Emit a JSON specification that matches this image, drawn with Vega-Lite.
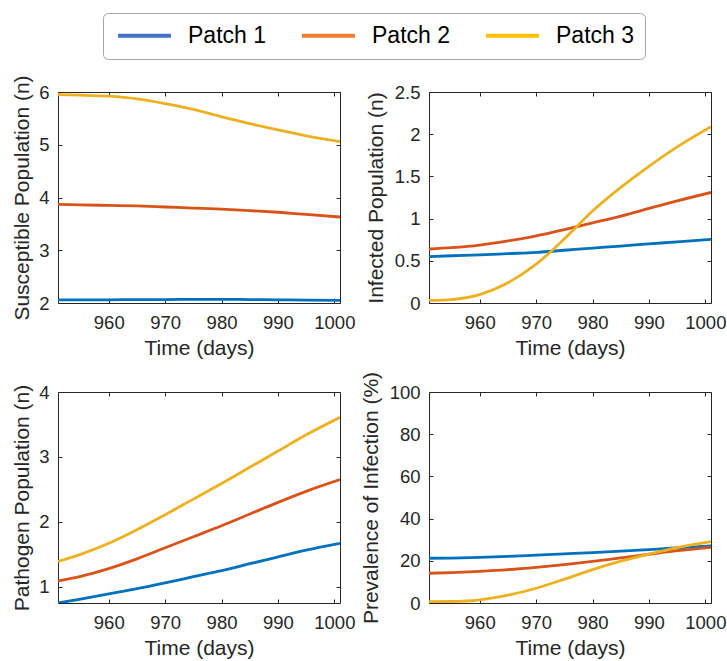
{
  "$schema": "https://vega.github.io/schema/vega-lite/v6.json",
  "background": "white",
  "padding": {"top": 12, "left": 11, "right": 3, "bottom": 5},
  "bounds": "flush",
  "spacing": 89,
  "columns": 2,
  "config": {
    "font": "Liberation Sans",
    "view": {"stroke": "#262626", "strokeWidth": 1},
    "axis": {
      "domain": false, "grid": false,
      "tickColor": "#262626", "tickSize": -4, "tickWidth": 1,
      "labelColor": "#262626", "labelFontSize": 18.5, "labelFont": "Liberation Sans",
      "titleColor": "#262626", "titleFontSize": 21, "titleFontWeight": "normal", "titleFont": "Liberation Sans"
    },
    "axisBottom": {"labelPadding": 14, "titlePadding": 6},
    "axisLeft": {"labelPadding": 13},
    "legend": {
      "orient": "none", "legendX": 45, "legendY": -79, "direction": "horizontal",
      "labelFont": "Liberation Sans", "labelFontSize": 23, "labelColor": "#000000",
      "symbolType": "M-5,0H5", "symbolSize": 112, "symbolStrokeWidth": 4, "symbolOffset": 19, "symbolOpacity": 1,
      "labelOffset": 32, "columnPadding": 28, "padding": 11,
      "strokeColor": "#A6A6A6", "cornerRadius": 5
    }
  },
  "data": {"values": [
    {"t": 951, "patch": "Patch 1", "S": 2.06, "I": 0.55, "P": 0.75, "prev": 21.2},
    {"t": 955, "patch": "Patch 1", "S": 2.06, "I": 0.56, "P": 0.81, "prev": 21.3},
    {"t": 960, "patch": "Patch 1", "S": 2.06, "I": 0.57, "P": 0.89, "prev": 21.6},
    {"t": 965, "patch": "Patch 1", "S": 2.065, "I": 0.585, "P": 0.97, "prev": 22.1},
    {"t": 970, "patch": "Patch 1", "S": 2.065, "I": 0.6, "P": 1.06, "prev": 22.7},
    {"t": 975, "patch": "Patch 1", "S": 2.07, "I": 0.625, "P": 1.155, "prev": 23.3},
    {"t": 980, "patch": "Patch 1", "S": 2.07, "I": 0.65, "P": 1.25, "prev": 23.9},
    {"t": 985, "patch": "Patch 1", "S": 2.065, "I": 0.675, "P": 1.355, "prev": 24.6},
    {"t": 990, "patch": "Patch 1", "S": 2.06, "I": 0.7, "P": 1.46, "prev": 25.3},
    {"t": 995, "patch": "Patch 1", "S": 2.055, "I": 0.725, "P": 1.565, "prev": 26.1},
    {"t": 1001, "patch": "Patch 1", "S": 2.05, "I": 0.755, "P": 1.67, "prev": 27.1},
    {"t": 951, "patch": "Patch 2", "S": 3.87, "I": 0.64, "P": 1.09, "prev": 14.1},
    {"t": 955, "patch": "Patch 2", "S": 3.86, "I": 0.655, "P": 1.16, "prev": 14.4},
    {"t": 960, "patch": "Patch 2", "S": 3.85, "I": 0.685, "P": 1.28, "prev": 15.0},
    {"t": 965, "patch": "Patch 2", "S": 3.84, "I": 0.735, "P": 1.43, "prev": 15.8},
    {"t": 970, "patch": "Patch 2", "S": 3.82, "I": 0.795, "P": 1.6, "prev": 16.9},
    {"t": 975, "patch": "Patch 2", "S": 3.8, "I": 0.87, "P": 1.77, "prev": 18.2},
    {"t": 980, "patch": "Patch 2", "S": 3.78, "I": 0.95, "P": 1.94, "prev": 19.7},
    {"t": 985, "patch": "Patch 2", "S": 3.75, "I": 1.03, "P": 2.12, "prev": 21.4},
    {"t": 990, "patch": "Patch 2", "S": 3.72, "I": 1.12, "P": 2.3, "prev": 23.1},
    {"t": 995, "patch": "Patch 2", "S": 3.68, "I": 1.21, "P": 2.47, "prev": 24.8},
    {"t": 1001, "patch": "Patch 2", "S": 3.63, "I": 1.31, "P": 2.65, "prev": 26.4},
    {"t": 951, "patch": "Patch 3", "S": 5.95, "I": 0.03, "P": 1.39, "prev": 0.6},
    {"t": 955, "patch": "Patch 3", "S": 5.94, "I": 0.04, "P": 1.5, "prev": 0.7},
    {"t": 960, "patch": "Patch 3", "S": 5.92, "I": 0.1, "P": 1.67, "prev": 1.5},
    {"t": 965, "patch": "Patch 3", "S": 5.87, "I": 0.24, "P": 1.88, "prev": 3.7},
    {"t": 970, "patch": "Patch 3", "S": 5.78, "I": 0.46, "P": 2.11, "prev": 7.0},
    {"t": 975, "patch": "Patch 3", "S": 5.67, "I": 0.76, "P": 2.35, "prev": 11.3},
    {"t": 980, "patch": "Patch 3", "S": 5.53, "I": 1.09, "P": 2.59, "prev": 15.8},
    {"t": 985, "patch": "Patch 3", "S": 5.4, "I": 1.37, "P": 2.84, "prev": 19.8},
    {"t": 990, "patch": "Patch 3", "S": 5.28, "I": 1.62, "P": 3.09, "prev": 23.2},
    {"t": 995, "patch": "Patch 3", "S": 5.17, "I": 1.85, "P": 3.34, "prev": 26.3},
    {"t": 1001, "patch": "Patch 3", "S": 5.06, "I": 2.09, "P": 3.61, "prev": 29.1}
  ]},
  "concat": [
    {
      "width": 282, "height": 211,
      "layer": [
        {"mark": {"type": "line", "strokeWidth": 2.8, "interpolate": "monotone", "clip": true},
         "encoding": {
           "x": {"field": "t", "type": "quantitative", "scale": {"domain": [951, 1001], "nice": false, "zero": false}, "axis": {"values": [960, 970, 980, 990, 1000], "format": "d", "title": "Time (days)"}},
           "y": {"field": "S", "type": "quantitative", "scale": {"domain": [2, 6], "nice": false, "zero": false}, "axis": {"values": [2, 3, 4, 5, 6], "format": ".6~g", "title": "Susceptible Population (n)", "titlePadding": 6}},
           "stroke": {"field": "patch", "type": "nominal", "scale": {"range": ["#0072BD", "#D95319", "#EDB120"]}, "legend": null}
         }},
        {"mark": {"type": "line", "strokeOpacity": 0},
         "encoding": {
           "x": {"field": "t", "type": "quantitative", "axis": {"orient": "top", "values": [960, 970, 980, 990, 1000], "labels": false, "title": null}},
           "y": {"field": "S", "type": "quantitative", "axis": {"orient": "right", "values": [2, 3, 4, 5, 6], "labels": false, "title": null}},
           "color": {"field": "patch", "type": "nominal", "scale": {"domain": ["Patch 1", "Patch 2", "Patch 3"], "range": ["#4472C4", "#ED7D31", "#FFC000"]}, "legend": {"title": null}}
         }}
      ],
      "resolve": {"axis": {"x": "independent", "y": "independent"}}
    },
    {
      "width": 282, "height": 211,
      "layer": [
        {"mark": {"type": "line", "strokeWidth": 2.8, "interpolate": "monotone", "clip": true},
         "encoding": {
           "x": {"field": "t", "type": "quantitative", "scale": {"domain": [951, 1001], "nice": false, "zero": false}, "axis": {"values": [960, 970, 980, 990, 1000], "format": "d", "title": "Time (days)"}},
           "y": {"field": "I", "type": "quantitative", "scale": {"domain": [0, 2.5], "nice": false}, "axis": {"values": [0, 0.5, 1, 1.5, 2, 2.5], "format": ".6~g", "title": "Infected Population (n)", "titlePadding": 8}},
           "stroke": {"field": "patch", "type": "nominal", "scale": {"range": ["#0072BD", "#D95319", "#EDB120"]}, "legend": null}
         }},
        {"mark": {"type": "line", "strokeOpacity": 0},
         "encoding": {
           "x": {"field": "t", "type": "quantitative", "axis": {"orient": "top", "values": [960, 970, 980, 990, 1000], "labels": false, "title": null}},
           "y": {"field": "I", "type": "quantitative", "axis": {"orient": "right", "values": [0, 0.5, 1, 1.5, 2, 2.5], "labels": false, "title": null}},
           "color": {"field": "patch", "type": "nominal", "scale": {"domain": ["Patch 1", "Patch 2", "Patch 3"], "range": ["#4472C4", "#ED7D31", "#FFC000"]}, "legend": {"title": null}}
         }}
      ],
      "resolve": {"axis": {"x": "independent", "y": "independent"}}
    },
    {
      "width": 282, "height": 211,
      "layer": [
        {"mark": {"type": "line", "strokeWidth": 2.8, "interpolate": "monotone", "clip": true},
         "encoding": {
           "x": {"field": "t", "type": "quantitative", "scale": {"domain": [951, 1001], "nice": false, "zero": false}, "axis": {"values": [960, 970, 980, 990, 1000], "format": "d", "title": "Time (days)"}},
           "y": {"field": "P", "type": "quantitative", "scale": {"domain": [0.75, 4], "nice": false, "zero": false}, "axis": {"values": [1, 2, 3, 4], "format": ".6~g", "title": "Pathogen Population (n)", "titlePadding": 6}},
           "stroke": {"field": "patch", "type": "nominal", "scale": {"range": ["#0072BD", "#D95319", "#EDB120"]}, "legend": null}
         }},
        {"mark": {"type": "line", "strokeOpacity": 0},
         "encoding": {
           "x": {"field": "t", "type": "quantitative", "axis": {"orient": "top", "values": [960, 970, 980, 990, 1000], "labels": false, "title": null}},
           "y": {"field": "P", "type": "quantitative", "axis": {"orient": "right", "values": [1, 2, 3, 4], "labels": false, "title": null}},
           "color": {"field": "patch", "type": "nominal", "scale": {"domain": ["Patch 1", "Patch 2", "Patch 3"], "range": ["#4472C4", "#ED7D31", "#FFC000"]}, "legend": {"title": null}}
         }}
      ],
      "resolve": {"axis": {"x": "independent", "y": "independent"}}
    },
    {
      "width": 282, "height": 211,
      "layer": [
        {"mark": {"type": "line", "strokeWidth": 2.8, "interpolate": "monotone", "clip": true},
         "encoding": {
           "x": {"field": "t", "type": "quantitative", "scale": {"domain": [951, 1001], "nice": false, "zero": false}, "axis": {"values": [960, 970, 980, 990, 1000], "format": "d", "title": "Time (days)"}},
           "y": {"field": "prev", "type": "quantitative", "scale": {"domain": [0, 100], "nice": false}, "axis": {"values": [0, 20, 40, 60, 80, 100], "format": ".6~g", "title": "Prevalence of Infection (%)", "titlePadding": 8}},
           "stroke": {"field": "patch", "type": "nominal", "scale": {"range": ["#0072BD", "#D95319", "#EDB120"]}, "legend": null}
         }},
        {"mark": {"type": "line", "strokeOpacity": 0},
         "encoding": {
           "x": {"field": "t", "type": "quantitative", "axis": {"orient": "top", "values": [960, 970, 980, 990, 1000], "labels": false, "title": null}},
           "y": {"field": "prev", "type": "quantitative", "axis": {"orient": "right", "values": [0, 20, 40, 60, 80, 100], "labels": false, "title": null}},
           "color": {"field": "patch", "type": "nominal", "scale": {"domain": ["Patch 1", "Patch 2", "Patch 3"], "range": ["#4472C4", "#ED7D31", "#FFC000"]}, "legend": {"title": null}}
         }}
      ],
      "resolve": {"axis": {"x": "independent", "y": "independent"}}
    }
  ]
}
